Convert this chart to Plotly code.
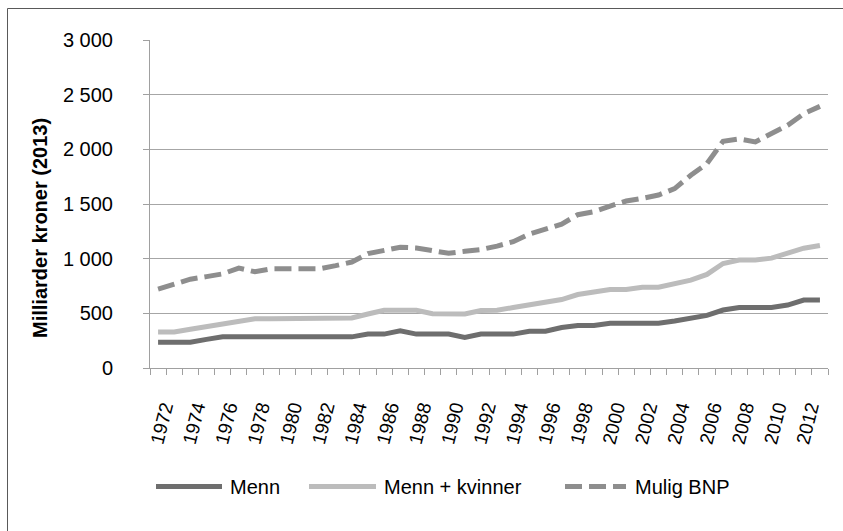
import plotly.graph_objects as go

years = list(range(1972, 2014))
menn = [235, 235, 235, 262, 285, 285, 285, 285, 285, 285, 285, 285, 285,
        310, 310, 340, 310, 310, 310, 280, 310, 310, 310,
        336, 336, 370, 388, 388,
        410, 410, 410, 410,
        430, 454, 481, 530, 554, 554, 554, 576, 621, 621]
menn_kvinner = [330, 330, 355, 380, 404, 429, 451, 451, 451, 451, 451, 451, 457,
                494, 528, 528, 528, 497, 494, 494, 525, 528, 553,
                577, 602, 626, 672, 697,
                718, 718, 739, 739,
                767, 804, 856, 956, 987, 987, 1005, 1047, 1096, 1121]
mulig_bnp = [722, 765, 812, 836, 861, 914, 880, 907, 907, 907, 908, 936, 969,
             1046, 1077, 1104, 1098, 1074, 1049, 1067, 1083, 1115, 1155,
             1225, 1268, 1316, 1402, 1430,
             1481, 1527, 1552, 1582,
             1641, 1763, 1870, 2074, 2095, 2068, 2144, 2220, 2326, 2393]

y_tickvals = [0, 500, 1000, 1500, 2000, 2500, 3000]
y_ticktext = ["0", "500", "1 000", "1 500", "2 000", "2 500", "3 000"]
x_tickvals = list(range(1972, 2013, 2))
x_ticktext = [str(y) for y in x_tickvals]

series_names = ["Menn", "Menn + kvinner", "Mulig BNP"]
colors = ["#6e6e6e", "#bcbcbc", "#8e8e8e"]
FONT = "Liberation Sans, Arial, sans-serif"

fig = go.Figure()
fig.add_trace(go.Scatter(x=years, y=menn, mode="lines", name=series_names[0],
                         line=dict(color=colors[0], width=5)))
fig.add_trace(go.Scatter(x=years, y=menn_kvinner, mode="lines", name=series_names[1],
                         line=dict(color=colors[1], width=5)))
fig.add_trace(go.Scatter(x=years, y=mulig_bnp, mode="lines", name=series_names[2],
                         line=dict(color=colors[2], width=5, dash="17px,7px")))

# geometry helpers (plot area in pixels)
W, H = 843, 531
L, R, T, B = 150, 15, 40, 163
pw, ph = W - L - R, H - T - B


def px(xpix):
    return (xpix - L) / pw


def py(ypix):
    return (H - B - ypix) / ph


shapes = []
annotations = []
# outer border (left + top)
shapes.append(dict(type="line", xref="paper", yref="paper", x0=px(7.5), x1=px(860),
                   y0=py(8.5), y1=py(8.5), line=dict(color="#595959", width=1)))
shapes.append(dict(type="line", xref="paper", yref="paper", x0=px(7.5), x1=px(7.5),
                   y0=py(8.5), y1=py(545), line=dict(color="#595959", width=1)))

# y-axis title
annotations.append(dict(xref="paper", yref="paper", x=px(40), y=py(228), text="<b>Milliarder kroner (2013)</b>",
                        showarrow=False, textangle=-90, xanchor="center", yanchor="middle",
                        font=dict(family=FONT, size=20, color="#000000")))

# manual legend
leg_y = py(486.5)
leg_items = [(154, 224, 228), (307, 378, 382), (563, 628, 633)]
for i, (a, b, t) in enumerate(leg_items):
    dash = "solid" if i < 2 else "17px,7px"
    shapes.append(dict(type="line", xref="paper", yref="paper", x0=px(a + 2), x1=px(b - 2),
                       y0=leg_y, y1=leg_y, line=dict(color=colors[i], width=5, dash=dash)))
    annotations.append(dict(xref="paper", yref="paper", x=px(t), y=leg_y, text=series_names[i],
                            showarrow=False, xanchor="left", yanchor="middle",
                            font=dict(family=FONT, size=20, color="#000000")))

fig.update_layout(
    width=W, height=H,
    margin=dict(l=L, r=R, t=T, b=B, pad=0, autoexpand=False),
    paper_bgcolor="white", plot_bgcolor="white",
    showlegend=False,
    font=dict(family=FONT, size=20, color="#000000"),
    shapes=shapes,
    annotations=annotations,
)
fig.update_xaxes(
    automargin=False,
    range=[1971.5, 2013.5],
    tickmode="array", tickvals=x_tickvals, ticktext=x_ticktext,
    tickangle=-76, tickfont=dict(size=19),
    ticks="", showgrid=False, zeroline=False,
    showline=True, linecolor="#a0a0a0", linewidth=1,
    ticklabelstandoff=20, ticklabelshift=6,
    minor=dict(tickmode="array", tickvals=[y - 0.5 for y in years] + [2013.5],
               ticks="outside", ticklen=6, tickcolor="#a0a0a0", showgrid=False),
)
fig.update_yaxes(
    automargin=False,
    range=[0, 3000],
    tickmode="array", tickvals=y_tickvals, ticktext=y_ticktext,
    tickfont=dict(size=20),
    ticks="outside", ticklen=6, tickcolor="#a0a0a0",
    showgrid=True, gridcolor="#a6a6a6", gridwidth=1,
    zeroline=False, showline=True, linecolor="#a0a0a0", linewidth=1,
    ticklabelstandoff=26,
)

fig.write_html(
    "out.html",
    config={"displayModeBar": False},
    post_script="document.body.style.margin='0px';document.body.style.overflow='hidden';",
)
